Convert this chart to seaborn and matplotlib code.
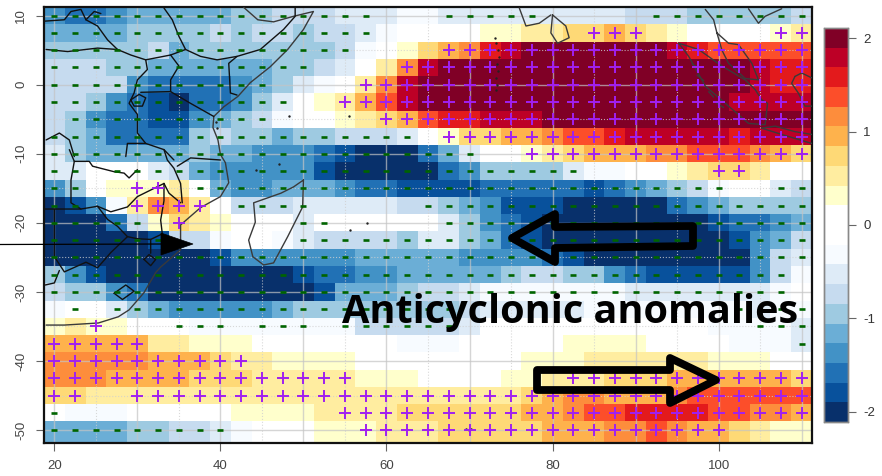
import numpy as np
import matplotlib
matplotlib.use("Agg")
import matplotlib.pyplot as plt
from matplotlib.colors import ListedColormap
from matplotlib.patches import Polygon
import seaborn as sns

lons = [20 + 2.5 * i for i in range(37)]
lats = [10 - 2.5 * i for i in range(26)]

# colour class of each cell (sign = side of zero, 10 = darkest)
levels = [
    [-7,-8,-8,-7,-6,-6,-6,-6,-6,-5,-5,-4,-4,-4,-3,-3,-3,-2,-2,-3,-3,-3,-3,-3,-3,-3,-3,-3,-4,-4,-4,-5,-5,-5,-5,-5,-4],
    [-6,-6,-6,-6,-5,-5,-5,-5,-4,-5,-4,-4,-5,-4,-4,-3,-2,1,1,1,1,2,2,3,3,4,4,5,4,3,2,1,1,1,1,2,3],
    [-5,-5,-5,-5,-5,-4,-6,-5,-5,-5,-5,-5,-5,-5,-4,-2,1,2,4,5,6,8,9,10,10,10,10,10,10,10,9,8,7,7,7,7,7],
    [-4,-4,-4,-5,-5,-6,-6,-6,-6,-6,-6,-5,-5,-4,-3,1,3,6,9,10,10,10,10,10,10,10,10,10,10,10,10,10,10,10,9,8,8],
    [-4,-4,-4,-4,-7,-8,-8,-8,-8,-7,-6,-5,-3,-2,-1,3,6,9,10,10,10,10,10,10,10,10,10,10,10,10,10,10,10,10,9,8,8],
    [-4,-4,-5,-7,-8,-9,-10,-8,-8,-7,-5,-3,-1,2,3,5,7,9,10,10,10,10,10,10,10,10,10,10,10,10,10,10,10,9,9,9,9],
    [-4,-5,-7,-8,-8,-9,-9,-7,-6,-5,-4,-2,-1,-1,2,3,4,5,7,8,8,9,9,9,10,10,10,10,10,10,10,10,10,10,10,10,10],
    [-4,-5,-6,-8,-8,-8,-8,-5,-4,-5,-5,-6,-5,-5,-4,-4,-4,-3,1,2,4,4,5,5,6,7,7,8,9,9,9,9,9,8,9,9,9],
    [-3,-5,-6,-6,-6,-6,-6,-5,-6,-6,-7,-7,-7,-8,-9,-10,-10,-10,-8,-6,-3,1,1,2,3,4,5,5,5,6,6,7,7,7,6,5,4],
    [-3,-3,-1,-1,-1,-3,-4,-6,-7,-7,-7,-7,-7,-9,-10,-10,-10,-10,-10,-8,-7,-5,-5,-5,-5,-3,-2,-2,1,1,2,3,4,4,3,1,1],
    [-7,-5,1,2,2,2,3,-1,-6,-7,-7,-6,-6,-6,-7,-8,-8,-9,-9,-9,-9,-8,-8,-8,-8,-8,-9,-8,-7,-6,-5,-4,-2,1,1,-3,-4],
    [-10,-9,-7,-2,3,6,5,3,1,-4,-4,-4,-3,-3,-3,-3,-3,-4,-4,-5,-6,-7,-9,-9,-9,-10,-10,-10,-10,-10,-8,-7,-6,-5,-5,-5,-5],
    [-10,-10,-10,-8,-4,2,4,3,2,1,1,1,-3,-1,-1,-1,-1,-1,-1,-3,-5,-7,-8,-9,-10,-10,-10,-10,-10,-10,-10,-10,-9,-8,-8,-7,-6],
    [-10,-10,-10,-10,-10,-9,-4,-4,-2,-1,-1,-2,-3,-4,-4,-4,-4,-5,-3,-3,-5,-6,-8,-9,-10,-10,-10,-10,-10,-10,-10,-10,-10,-9,-7,-6,-4],
    [-10,-10,-10,-10,-10,-10,-10,-10,-9,-7,-7,-7,-7,-7,-7,-6,-6,-6,-6,-6,-7,-7,-7,-7,-8,-9,-10,-10,-10,-10,-10,-10,-10,-10,-7,-4,-3],
    [-5,-7,-9,-10,-10,-10,-10,-10,-10,-10,-10,-10,-9,-8,-8,-7,-7,-6,-6,-6,-6,-6,-5,-4,-4,-5,-5,-7,-8,-9,-9,-9,-9,-9,-7,-4,-2],
    [-4,-5,-5,-7,-8,-10,-10,-10,-10,-10,-10,-10,-10,-9,-6,-6,-6,-5,-4,-4,-3,-2,-2,-2,-2,-2,-2,-2,-3,-3,-3,-3,-3,-3,-3,-2,-1],
    [-2,-1,-1,-3,-5,-6,-7,-7,-7,-7,-7,-6,-5,-5,-5,-5,-5,-5,-5,-5,-4,-3,-3,-3,-3,-3,-2,-2,-2,-2,-2,-2,-2,-2,-3,-2,-2],
    [2,3,2,2,1,1,1,-2,-2,-2,-2,-2,-2,-2,-2,-4,-4,-4,-4,-4,-3,1,1,1,1,1,1,1,1,1,1,1,-2,-2,-2,-2,-3],
    [5,5,5,5,5,3,3,2,2,2,1,1,1,1,1,1,1,-2,-2,-2,1,1,1,1,1,2,2,2,2,1,1,1,1,-2,-2,-2,-3],
    [6,6,6,6,6,5,5,5,4,3,3,2,2,2,2,1,1,1,1,1,1,1,1,2,2,2,3,3,3,3,3,3,2,2,2,1,1],
    [6,6,6,5,5,5,5,4,4,4,3,3,3,3,3,2,2,2,1,1,1,1,2,2,3,3,3,4,4,4,5,5,5,5,5,5,4],
    [4,4,3,3,3,3,3,3,3,3,3,3,3,3,3,3,3,3,3,3,3,3,3,4,5,6,6,5,5,5,6,7,7,7,7,7,7],
    [-1,-2,-2,-2,1,1,1,1,1,2,2,2,2,3,3,3,3,4,4,4,4,4,4,5,5,6,7,7,8,8,8,8,7,7,6,6,5],
    [-6,-6,-6,-6,-5,-5,-4,-4,-3,-2,1,1,1,2,2,2,3,3,3,4,4,4,4,4,5,5,5,6,6,7,6,5,5,4,3,2,2],
    [-6,-6,-6,-6,-5,-5,-4,-4,-3,-2,1,1,1,2,2,2,3,3,3,4,4,4,4,4,5,5,5,6,6,7,6,5,5,4,3,2,2],
]

# significance signs per cell
signs = [
    "----------------...-----.....--------",
    "----------------..........+++......++",
    "---------------....++++++++++++++++++",
    "-------------....++++++++++++++++++++",
    "-----------....++++++++++++++++++++++",
    "------------..+++++++++++++++++++++++",
    ".----------.....+++++++++++++++++++++",
    "------------------.++++++++++++++++++",
    "---------------------..++++++++++++++",
    "--.-----------------------......++...",
    "--..++.--------------------------..--",
    "--..++++.----.....-------------------",
    "-----.+.....--.....------------------",
    "------......-------------------------",
    "-------------------------------------",
    "------------------------------------.",
    "------------------------------------.",
    ".-.-----------------.............-.--",
    "..+...---.---.------..............---",
    "+++++...............................-",
    "++++++++++...........................",
    "+++++++++++++++..........++++++++++++",
    "++..+++++++++++++++++++++++++++++++++",
    "-.............+++++++++++++++++++++++",
    "---------......++++++++++++++++++....",
]

xticks = [20, 40, 60, 80, 100]
yticks = [10, 0, -10, -20, -30, -40, -50]
cbar_ticks = [-2, -1, 0, 1, 2]

colors = ["#08306b", "#08519c", "#2171b5", "#4292c6", "#6baed6", "#9ecae1", "#c6dbef", "#deebf7", "#f7fbff", "#ffffff",
          "#ffffff", "#ffffcc", "#ffeda0", "#fed976", "#feb24c", "#fd8d3c", "#fc4e2a", "#e31a1c", "#bd0026", "#800026"]

# coast and border lines as lon, lat
coasts = [
    [(42.8,11.2),(44.5,9.4),(46.4,9.1),(48.8,9.9),(51.2,10.6),(50,8),(48.1,5.1),(46,2.6),(43.6,0.3),(42.1,-1.7),(40.4,-3.2),(39.2,-4.6),
     (39.1,-6.2),(39.7,-8),(40,-10.1),(40.6,-11.3),(41,-14.2),(40,-16.2),(37.6,-17.8),(35.2,-20.3),(35.2,-23.9),(32.8,-26.4),(32.2,-27.2),
     (30.8,-30.1),(29,-32.6),(27.7,-33.6),(25.3,-34.5),(21.2,-34.8),(19,-34.8)],
    [(50,-13.8),(49.9,-17.7),(48.1,-22),(46.4,-25.8),(45.2,-26.1),(43.9,-24.9),(43.4,-22.5),(44.2,-19.9),(44,-17.1),(47.3,-15.7),(48.8,-14.8),(50,-13.8)],
    [(76,11.1),(76.8,8.5),(78.4,8.9),(79.8,10.1)],
    [(80,10.1),(81.6,8.5),(82,6.8),(80.6,6),(79.8,7.5),(80,10.1)],
    [(95.2,6),(96.4,4.1),(98.4,-0.2),(101.2,-3.1),(103.6,-5.6),(105.6,-5.8),(105.9,-2.7),(105.2,-2.2),(104.4,-0.7),(103.2,0.7),(100.4,2.7),(97.6,5.1),(95.2,6)],
    [(105.2,-6.3),(107.6,-7.2),(111.2,-8.5)],
    [(105.2,-6.3),(106.8,-6),(109.2,-6.8),(111.2,-7.2)],
    [(98.4,10.9),(99.4,9.4),(99.8,7.5),(101.2,6),(102.4,5.8),(104,3.1),(104.8,0.7),(103.2,0.9),(101.2,3.1),(100.4,5),(99.8,7.5)],
    [(109.2,1.2),(110,1.7),(111.2,1)],
    [(109.2,1.2),(108.8,0.2),(109.6,-1.2),(110.4,-3.1),(111.2,-3.1)],
    [(96.8,3),(97.5,2.5)],
    [(97.4,1.4),(98.2,0.6)],
    [(98.8,-1),(99.4,-1.8)],
    [(99.8,-2.7),(100.6,-3.3)],
    [(103.6,11),(104.8,8.9),(105.6,9.9),(107.6,11)],
]
borders = [
    [(18.8,9.2),(21.2,9.4),(22,10.6),(23.2,10.9),(23.8,9.4),(25.2,8.5),(26.4,6.5),(27.6,5.1)],
    [(19,5.1),(21.6,4.8),(25.2,5.3),(27.6,5.1),(29.2,4.3),(31,3.6),(34,4.3),(35.8,5.1),(37.6,4.1),(39.6,3.6),(42,4.1),(44.8,5.1),(47.6,8),(49,9.9),(49,11.3)],
    [(31,3.6),(31.2,2.2),(30,0.7),(29.6,-1.2),(29,-2.7),(30,-4.3),(30,-7),(31,-8.5),(33.2,-9.4),(34.4,-10.9)],
    [(30.4,-1.1),(34,-1),(36.4,-2.7),(39.2,-4.6)],
    [(34,-1),(34,0.7),(35,2.7),(34,4.3)],
    [(42,4.1),(41,3.1),(41.2,-1.2),(42,-1.5)],
    [(29.2,-2.2),(30.2,-1.4),(31,-1.9),(30.6,-3.1),(29.6,-3.1),(29.2,-2.2)],
    [(28.6,-10.4),(28.8,-8.5),(31,-8.5)],
    [(19,-8),(20.6,-7),(21.8,-8),(22.4,-10.4)],
    [(33.2,11.1),(34.2,9.4),(35,7),(35.8,5.1)],
    [(23.8,9.4),(24.8,10.6),(25.6,10.3)],
    [(21.8,-9.4),(22.4,-11.1),(24.2,-11.1),(24.6,-11.8),(27.2,-12.6),(28.4,-12.8),(29,-13.5),(30,-12.3)],
    [(22.4,-11.1),(22,-13.8),(22,-17.1),(23.2,-18)],
    [(18.9,-18),(23.2,-18),(25.2,-17.6),(26.8,-18.4),(28.8,-17.7),(30,-16.2),(33.2,-14.3)],
    [(33.2,-9.4),(33.6,-10.9),(34.4,-12.1),(35.2,-14.3),(35.4,-17.1)],
    [(33.2,-14.3),(33.8,-15.7),(35.2,-17.1)],
    [(34.8,-11.8),(36.4,-10.6),(40,-10.9)],
    [(33.2,-14.3),(33.2,-16.8),(33,-18.2),(32.8,-19.6),(33,-21.6),(31.6,-22.4),(31.6,-24.4)],
    [(30.8,-25.3),(31.4,-24.6),(32.2,-25.3),(31.6,-26.2),(30.8,-25.3)],
    [(25.2,-17.6),(26.4,-19.5),(27.6,-20.5),(28.8,-22),(30,-22.3),(31.6,-22.4)],
    [(28.8,-22),(26.8,-24.3),(25.2,-26.5),(23.8,-25.7),(21.2,-27.1),(20,-24.9),(20,-18)],
    [(20.6,-26.9),(20,-28.7),(18.9,-29)],
    [(27.2,-30.2),(28.6,-29),(29.6,-29.9),(28.2,-31.1),(27.2,-30.2)],
]
islands = [(73.1,6.8),(73.2,6),(73.4,5),(73.5,4),(73.3,3),(73.4,2),(73.2,1),(73.3,0),(73.2,-0.7),(55.6,-21),(57.6,-20),(69.6,-49.8),(69.9,-50),(70.2,-49.9),
           (39.5,-5.4),(39.6,-6.3),(48.2,-4.6),(55.5,-4.6),(47,-11.5),(44.3,-12.3)]


def lon_to_x(lon):
    return (np.asarray(lon) - 18.75) / 2.5


def lat_to_y(lat):
    return (11.25 - np.asarray(lat)) / 2.5


def main():
    sns.set_theme(style="white")
    plt.rcParams["font.family"] = ["Liberation Sans", "DejaVu Sans"]

    w, h = 882, 476
    fig = plt.figure(figsize=(w / 100, h / 100), dpi=100)
    ax = fig.add_axes([44 / w, 1 - 443 / h, 768 / w, 436 / h])
    cax = fig.add_axes([824 / w, 1 - 422 / h, 24 / w, 394 / h])

    # class to anomaly: 20 equal bins, tick 2 sits in the middle of the top one
    step = 0.2107
    lv = np.array(levels, dtype=float)
    anom = np.sign(lv) * (np.abs(lv) - 0.5) * step

    sns.heatmap(anom, ax=ax, cbar_ax=cax, cmap=ListedColormap(colors), vmin=-10 * step, vmax=10 * step,
                xticklabels=False, yticklabels=False, linewidths=0)

    # map grid
    for lon in range(20, 111, 10):
        ax.axvline(lon_to_x(lon), color="#c4c4c4", lw=1.0, alpha=0.7, zorder=2)
        ax.axvline(lon_to_x(lon + 5), color="#d0d0d0", lw=0.8, ls=":", alpha=0.8, zorder=2)
    for lat in range(10, -51, -10):
        ax.axhline(lat_to_y(lat), color="#c4c4c4", lw=1.0, alpha=0.7, zorder=2)
        ax.axhline(lat_to_y(lat - 5), color="#d0d0d0", lw=0.8, ls=":", alpha=0.8, zorder=2)

    for line in coasts:
        pts = np.array(line)
        ax.plot(lon_to_x(pts[:, 0]), lat_to_y(pts[:, 1]), color="#3a3a3a", lw=1.0, zorder=3)
    for line in borders:
        pts = np.array(line)
        ax.plot(lon_to_x(pts[:, 0]), lat_to_y(pts[:, 1]), color="#111111", lw=1.0, zorder=3)
    pts = np.array(islands)
    ax.scatter(lon_to_x(pts[:, 0]), lat_to_y(pts[:, 1]), s=3, color="#222222", linewidths=0, zorder=3)

    # significance marks
    for i, row in enumerate(signs):
        for j, s in enumerate(row):
            if s == "+":
                ax.scatter(lon_to_x(lons[j]), lat_to_y(lats[i]), marker="+", s=80, color="#a020f0", linewidths=1.4, zorder=4)
            elif s == "-":
                ax.scatter(lon_to_x(lons[j]), lat_to_y(lats[i]), marker="_", s=18, color="#006400", linewidths=1.9, zorder=4)

    ax.set_xlim(0, 37)
    ax.set_ylim(25.25, 0)
    ax.set_xticks(lon_to_x(xticks))
    ax.set_xticklabels(xticks, fontsize=9.5, color="#444444")
    ax.set_yticks(lat_to_y(yticks))
    ax.set_yticklabels(yticks, fontsize=9.5, color="#444444", rotation=90, va="center")
    ax.tick_params(axis="both", length=6, width=0.8, color="#666666", bottom=True, left=True, pad=6)
    for sp in ax.spines.values():
        sp.set_visible(True)
        sp.set_color("#111111")
        sp.set_linewidth(1.6)

    cax.set_yticks(cbar_ticks)
    cax.set_yticklabels(cbar_ticks, fontsize=9.5, color="#333333")
    cax.tick_params(axis="y", length=6, width=0.8, color="#666666", right=True, left=False, pad=5)
    for sp in cax.spines.values():
        sp.set_visible(True)
        sp.set_color("#888888")
        sp.set_linewidth(1.0)

    # annotations pasted on top of the map, in picture pixels
    over = fig.add_axes([0, 0, 1, 1], facecolor="none")
    over.set_xlim(0, w)
    over.set_ylim(h, 0)
    over.axis("off")
    left_arrow = [(512, 238), (555, 214), (555, 227), (693, 226), (693, 246), (555, 248), (555, 262)]
    right_arrow = [(537, 370), (670, 370), (670, 358), (716, 380), (670, 403), (670, 390), (537, 390)]
    for arrow in (left_arrow, right_arrow):
        over.add_patch(Polygon(arrow, closed=True, fill=False, ec="black", lw=5.6, joinstyle="round"))
    over.plot([0, 165], [244.5, 244], color="black", lw=0.9)
    over.add_patch(Polygon([(161, 233), (193, 244), (161, 255)], closed=True, fc="black", ec="black", lw=0.5))
    over.text(342, 323, "Anticyclonic anomalies", family=["Open Sans", "DejaVu Sans"], fontweight="bold",
              fontsize=28.5, color="black", ha="left", va="baseline")

    fig.savefig("out.png", dpi=100)
    plt.close(fig)


if __name__ == "__main__":
    main()
